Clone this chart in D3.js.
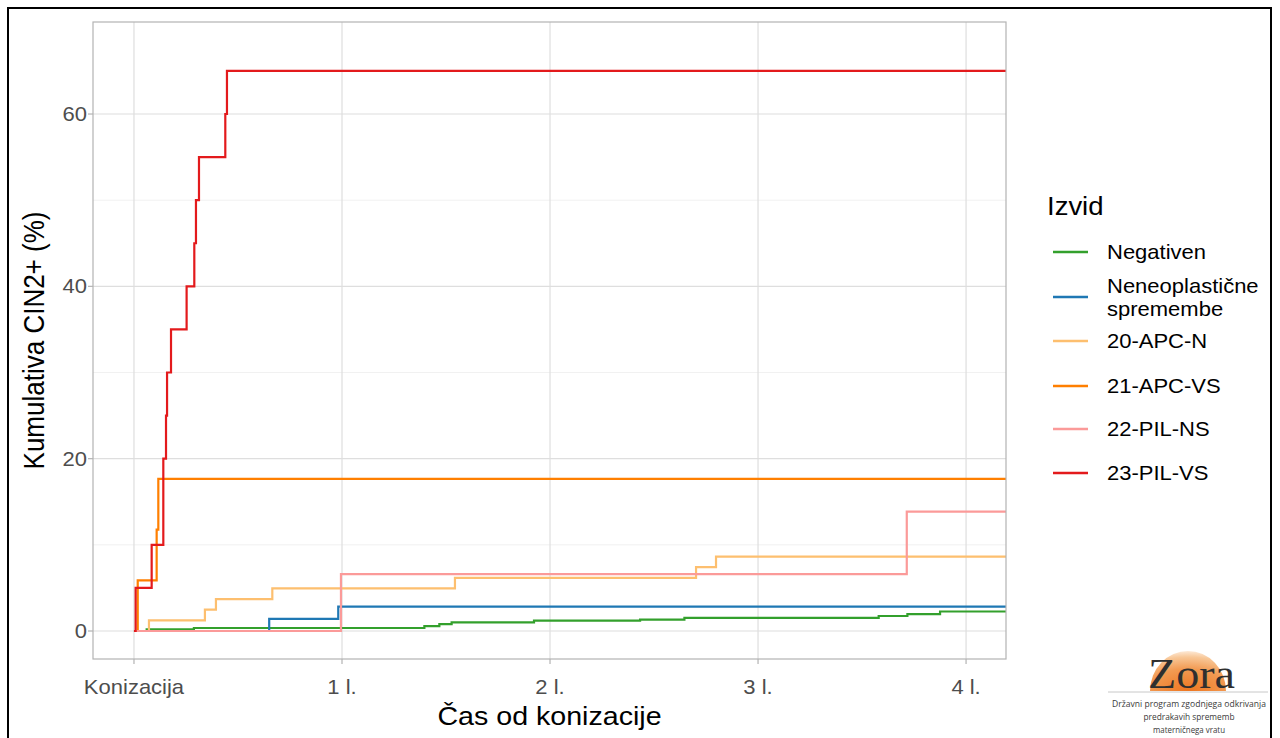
<!DOCTYPE html>
<html>
<head>
<meta charset="utf-8">
<script src="https://cdn.jsdelivr.net/npm/d3@7"></script>
<style>
  html, body { margin: 0; padding: 0; background: #fff; }
  svg { display: block; font-family: "Liberation Sans", Arial, sans-serif; }
</style>
</head>
<body>
<svg id="chart" width="1280" height="738"></svg>
<script>
// ---------------- DATA ----------------
const seriesNames = ["Negativen", "Neneoplastične spremembe", "20-APC-N", "21-APC-VS", "22-PIL-NS", "23-PIL-VS"];
const seriesColors = ["#33a02c", "#1f78b4", "#fdbf6f", "#ff7f00", "#fb9a99", "#e31a1c"];

const negTimes   = [0, 0.061, 0.288, 1.396, 1.468, 1.527, 1.923, 2.433, 2.646, 3.580, 3.718, 3.875];
const negValues  = [0, 0.20, 0.35, 0.57, 0.79, 1.00, 1.20, 1.33, 1.53, 1.74, 1.96, 2.26];

const neoTimes   = [0, 0.650, 0.982];
const neoValues  = [0, 1.41, 2.82];

const apcnTimes  = [0, 0.072, 0.341, 0.394, 0.665, 1.543, 2.702, 2.798];
const apcnValues = [0, 1.23, 2.47, 3.70, 4.94, 6.17, 7.41, 8.64];

const apcvsTimes  = [0, 0.018, 0.109, 0.117];
const apcvsValues = [0, 5.88, 11.76, 17.65];

const pilnsTimes  = [0, 0.995, 3.715];
const pilnsValues = [0, 6.60, 13.85];

const pilvsTimes  = [0, 0.008, 0.085, 0.141, 0.154, 0.159, 0.178, 0.253, 0.290, 0.298, 0.3125, 0.439, 0.447];
const pilvsValues = [0, 5, 10, 20, 25, 30, 35, 40, 45, 50, 55, 60, 65];

const xTickValues = [0, 1, 2, 3, 4];
const xTickLabels = ["Konizacija", "1 l.", "2 l.", "3 l.", "4 l."];
const yTickValues = [0, 20, 40, 60];
const yMinorValues = [10, 30, 50];

const xTitle = "Čas od konizacije";
const yTitle = "Kumulativa CIN2+ (%)";
const legendTitle = "Izvid";
const logoLines = ["Državni program zgodnjega odkrivanja", "predrakavih sprememb", "materničnega vratu"];

// ---------------- LAYOUT ----------------
const SX = 1.1; // horizontal stretch of the original picture
const panel = { left: 93, right: 1006, top: 22, bottom: 659 };
const svg = d3.select("#chart");

const x = d3.scaleLinear().domain([-0.197, 4.192]).range([panel.left, panel.right]);
const y = d3.scaleLinear().domain([-3.25, 70.68]).range([panel.bottom, panel.top]);

function stext(parent, px, py, str, size, opts = {}) {
  const t = parent.append("text")
    .attr("transform", `translate(${px},${py}) scale(${SX},1)` + (opts.rotate ? ` rotate(${opts.rotate})` : ""))
    .attr("font-size", size)
    .attr("fill", opts.fill || "#000")
    .attr("text-anchor", opts.anchor || "start")
    .text(str);
  if (opts.baseline) t.attr("dominant-baseline", opts.baseline);
  return t;
}

// outer frame
svg.append("path")
  .attr("d", "M8,740 L8,8 L1271,8 L1271,740")
  .attr("fill", "none").attr("stroke", "#000").attr("stroke-width", 2);

// grid
const grid = svg.append("g");
grid.selectAll("line.ymin").data(yMinorValues).join("line")
  .attr("x1", panel.left).attr("x2", panel.right)
  .attr("y1", d => y(d)).attr("y2", d => y(d))
  .attr("stroke", "#ededed").attr("stroke-width", 0.8);
grid.selectAll("line.ymaj").data(yTickValues).join("line")
  .attr("x1", panel.left).attr("x2", panel.right)
  .attr("y1", d => y(d)).attr("y2", d => y(d))
  .attr("stroke", "#dedede").attr("stroke-width", 1.2);
grid.selectAll("line.xmaj").data(xTickValues).join("line")
  .attr("y1", panel.top).attr("y2", panel.bottom)
  .attr("x1", d => x(d)).attr("x2", d => x(d))
  .attr("stroke", "#dedede").attr("stroke-width", 1.2);

// clip
svg.append("clipPath").attr("id", "clip")
  .append("rect").attr("x", panel.left).attr("y", panel.top)
  .attr("width", panel.right - panel.left).attr("height", panel.bottom - panel.top);

// series
const allSeries = [
  [negTimes, negValues], [neoTimes, neoValues], [apcnTimes, apcnValues],
  [apcvsTimes, apcvsValues], [pilnsTimes, pilnsValues], [pilvsTimes, pilvsValues]
];
const line = d3.line().x(d => x(d[0])).y(d => y(d[1])).curve(d3.curveStepAfter);
const xEnd = x.domain()[1];
const lines = svg.append("g").attr("clip-path", "url(#clip)");
allSeries.forEach(([ts, vs], i) => {
  const pts = ts.map((t, k) => [t, vs[k]]);
  pts.push([xEnd, vs[vs.length - 1]]);
  lines.append("path").datum(pts)
    .attr("d", line)
    .attr("fill", "none")
    .attr("stroke", seriesColors[i])
    .attr("stroke-width", 2.2);
});

// panel border
svg.append("rect")
  .attr("x", panel.left).attr("y", panel.top)
  .attr("width", panel.right - panel.left).attr("height", panel.bottom - panel.top)
  .attr("fill", "none").attr("stroke", "#b3b3b3").attr("stroke-width", 1.2);

// axes ticks and labels
const ax = svg.append("g");
ax.selectAll("line.xt").data(xTickValues).join("line")
  .attr("x1", d => x(d)).attr("x2", d => x(d))
  .attr("y1", panel.bottom).attr("y2", panel.bottom + 5)
  .attr("stroke", "#b3b3b3").attr("stroke-width", 1.2);
ax.selectAll("line.yt").data(yTickValues).join("line")
  .attr("x1", panel.left - 5).attr("x2", panel.left)
  .attr("y1", d => y(d)).attr("y2", d => y(d))
  .attr("stroke", "#b3b3b3").attr("stroke-width", 1.2);

xTickValues.forEach((v, i) => {
  stext(ax, x(v), 694, xTickLabels[i], 20, { anchor: "middle", fill: "#4d4d4d" });
});
yTickValues.forEach(v => {
  stext(ax, 87, y(v), String(v), 20, { anchor: "end", fill: "#4d4d4d", baseline: "central" });
});

// axis titles
stext(svg, (panel.left + panel.right) / 2, 725, xTitle, 26, { anchor: "middle" });
stext(svg, 44, (panel.top + panel.bottom) / 2, yTitle, 26, { anchor: "middle", rotate: -90 });

// legend
const lg = svg.append("g");
stext(lg, 1047, 215, legendTitle, 25);
const keyY = [252, 297, 341, 386, 429, 473];
seriesNames.forEach((name, i) => {
  lg.append("line")
    .attr("x1", 1053).attr("x2", 1088)
    .attr("y1", keyY[i]).attr("y2", keyY[i])
    .attr("stroke", seriesColors[i]).attr("stroke-width", 2.4);
  if (name.includes(" ")) {
    const parts = name.split(" ");
    stext(lg, 1107, keyY[i] - 11.5, parts[0], 20, { baseline: "central" });
    stext(lg, 1107, keyY[i] + 12, parts[1], 20, { baseline: "central" });
  } else {
    stext(lg, 1107, keyY[i], name, 20, { baseline: "central" });
  }
});

// logo
const logo = svg.append("g");
const defs = svg.append("defs");
const grad = defs.append("radialGradient").attr("id", "sun")
  .attr("cx", "50%").attr("cy", "100%").attr("r", "100%");
grad.append("stop").attr("offset", "0%").attr("stop-color", "#ee7620");
grad.append("stop").attr("offset", "55%").attr("stop-color", "#f29a52");
grad.append("stop").attr("offset", "85%").attr("stop-color", "#f8c797");
grad.append("stop").attr("offset", "100%").attr("stop-color", "#fde9d6");
logo.append("path")
  .attr("d", "M1150,691 A38,40 0 0 1 1226,691 Z")
  .attr("fill", "url(#sun)");
logo.append("text")
  .attr("x", 1148).attr("y", 688)
  .style("font-family", "'Liberation Serif', 'DejaVu Serif', serif")
  .attr("font-size", 42).attr("fill", "#2f2f2f")
  .attr("textLength", 87).attr("lengthAdjust", "spacingAndGlyphs")
  .text("Zora");
logo.append("line")
  .attr("x1", 1108).attr("x2", 1268).attr("y1", 692).attr("y2", 692)
  .attr("stroke", "#c8c8c8").attr("stroke-width", 1);
const logoW = [154, 91, 72];
const logoY = [707, 720, 733];
logoLines.forEach((s, i) => {
  logo.append("text")
    .attr("x", 1189).attr("y", logoY[i])
    .attr("text-anchor", "middle")
    .style("font-family", "'Open Sans', 'Noto Sans', sans-serif")
    .attr("font-size", 9).attr("fill", "#3a3a3a")
    .attr("textLength", logoW[i]).attr("lengthAdjust", "spacingAndGlyphs")
    .text(s);
});
</script>
</body>
</html>
